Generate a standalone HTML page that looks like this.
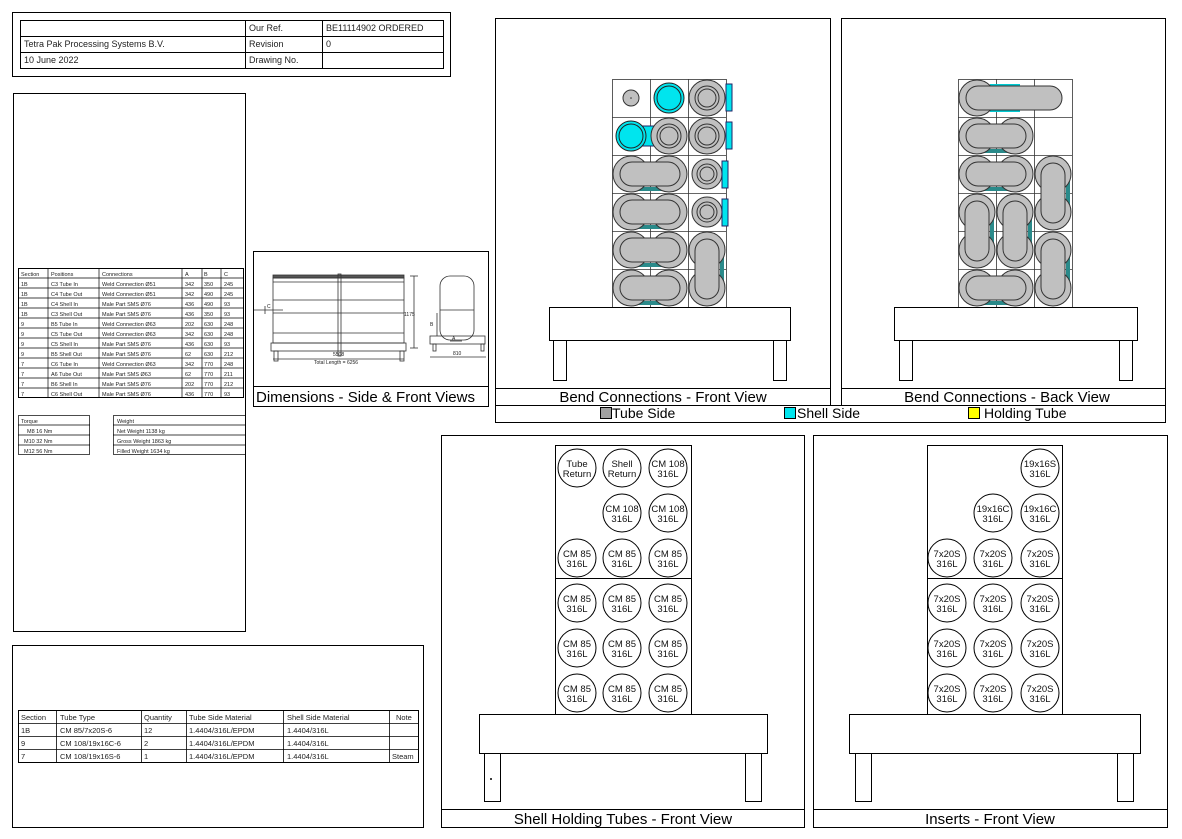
<!DOCTYPE html>
<html><head><meta charset="utf-8"><style>
html,body{margin:0;padding:0;background:#fff;}
svg{display:block;font-family:"Liberation Sans",Arial,sans-serif;}
.t{font-size:9px;fill:#222}
.s{font-size:5.5px;fill:#222}
.m{font-size:7.5px;fill:#222}
.ti{font-size:15px;fill:#000}
.lb{font-size:9.5px;fill:#111}
</style></head><body>
<svg width="1182" height="839" viewBox="0 0 1182 839" xmlns="http://www.w3.org/2000/svg">
<defs>
<g id="hb"><!-- horizontal bend, centered at 0,0 spanning -19..+19 -->
 <rect x="-2" y="13" width="42" height="4" fill="#2a8a8a"/>
 <circle cx="0" cy="0" r="18" fill="#c0c0c0" stroke="#333"/>
 <circle cx="38" cy="0" r="18" fill="#c0c0c0" stroke="#333"/>
 <rect x="-11" y="-12" width="60" height="24" rx="12" fill="#c0c0c0" stroke="#333"/>
</g>
<g id="vb">
 <rect x="13" y="-2" width="4" height="42" fill="#2a8a8a"/>
 <circle cx="0" cy="0" r="18" fill="#c0c0c0" stroke="#333"/>
 <circle cx="0" cy="38" r="18" fill="#c0c0c0" stroke="#333"/>
 <rect x="-12" y="-11" width="24" height="60" rx="12" fill="#c0c0c0" stroke="#333"/>
</g>
<g id="ring">
 <circle r="18" fill="#c0c0c0" stroke="#333"/>
 <circle r="12" fill="#c0c0c0" stroke="#333"/>
 <circle r="9" fill="#c0c0c0" stroke="#333"/>
</g>
<g id="ring2">
 <circle r="15" fill="#c0c0c0" stroke="#333"/>
 <circle r="10" fill="#c0c0c0" stroke="#333"/>
 <circle r="7" fill="#c0c0c0" stroke="#333"/>
</g>
</defs>
<g fill="none" stroke="#000" stroke-width="1">
<!-- header -->
<rect x="12.5" y="12.5" width="438" height="64"/>
<rect x="20.5" y="20.5" width="423" height="48"/>
<line x1="20" y1="36.5" x2="443" y2="36.5"/><line x1="20" y1="52.5" x2="443" y2="52.5"/>
<line x1="245.5" y1="20" x2="245.5" y2="68"/><line x1="322.5" y1="20" x2="322.5" y2="68"/>
<!-- left panel -->
<rect x="13.5" y="93.5" width="232" height="538"/>
<rect x="18.5" y="268.5" width="225" height="129"/>
</g>
<g stroke="#000" stroke-width="0.7">
<line x1="18" y1="278" x2="243" y2="278"/><line x1="18" y1="288" x2="243" y2="288"/><line x1="18" y1="298" x2="243" y2="298"/><line x1="18" y1="308" x2="243" y2="308"/><line x1="18" y1="318" x2="243" y2="318"/><line x1="18" y1="328" x2="243" y2="328"/><line x1="18" y1="338" x2="243" y2="338"/><line x1="18" y1="348" x2="243" y2="348"/><line x1="18" y1="358" x2="243" y2="358"/><line x1="18" y1="368" x2="243" y2="368"/><line x1="18" y1="378" x2="243" y2="378"/><line x1="18" y1="388" x2="243" y2="388"/>
<line x1="48" y1="268" x2="48" y2="397"/><line x1="99" y1="268" x2="99" y2="397"/><line x1="182" y1="268" x2="182" y2="397"/><line x1="202" y1="268" x2="202" y2="397"/><line x1="221" y1="268" x2="221" y2="397"/>
<rect x="18.5" y="415.5" width="71" height="39" fill="none"/>
<line x1="18" y1="425" x2="90" y2="425"/><line x1="18" y1="435" x2="90" y2="435"/><line x1="18" y1="445" x2="90" y2="445"/>
<rect x="113.5" y="415.5" width="132" height="39" fill="none"/>
<line x1="113" y1="425" x2="246" y2="425"/><line x1="113" y1="435" x2="246" y2="435"/><line x1="113" y1="445" x2="246" y2="445"/>
</g>
<g class="s">
<text x="21" y="276">Section</text><text x="51" y="276">Positions</text><text x="102" y="276">Connections</text><text x="185" y="276">A</text><text x="204" y="276">B</text><text x="224" y="276">C</text>
<text x="21" y="286">1B</text><text x="51" y="286">C3 Tube In</text><text x="102" y="286">Weld Connection Ø51</text><text x="185" y="286">342</text><text x="204" y="286">350</text><text x="224" y="286">245</text>
<text x="21" y="296">1B</text><text x="51" y="296">C4 Tube Out</text><text x="102" y="296">Weld Connection Ø51</text><text x="185" y="296">342</text><text x="204" y="296">490</text><text x="224" y="296">245</text>
<text x="21" y="306">1B</text><text x="51" y="306">C4 Shell In</text><text x="102" y="306">Male Part SMS Ø76</text><text x="185" y="306">436</text><text x="204" y="306">490</text><text x="224" y="306">93</text>
<text x="21" y="316">1B</text><text x="51" y="316">C3 Shell Out</text><text x="102" y="316">Male Part SMS Ø76</text><text x="185" y="316">436</text><text x="204" y="316">350</text><text x="224" y="316">93</text>
<text x="21" y="326">9</text><text x="51" y="326">B5 Tube In</text><text x="102" y="326">Weld Connection Ø63</text><text x="185" y="326">202</text><text x="204" y="326">630</text><text x="224" y="326">248</text>
<text x="21" y="336">9</text><text x="51" y="336">C5 Tube Out</text><text x="102" y="336">Weld Connection Ø63</text><text x="185" y="336">342</text><text x="204" y="336">630</text><text x="224" y="336">248</text>
<text x="21" y="346">9</text><text x="51" y="346">C5 Shell In</text><text x="102" y="346">Male Part SMS Ø76</text><text x="185" y="346">436</text><text x="204" y="346">630</text><text x="224" y="346">93</text>
<text x="21" y="356">9</text><text x="51" y="356">B5 Shell Out</text><text x="102" y="356">Male Part SMS Ø76</text><text x="185" y="356">62</text><text x="204" y="356">630</text><text x="224" y="356">212</text>
<text x="21" y="366">7</text><text x="51" y="366">C6 Tube In</text><text x="102" y="366">Weld Connection Ø63</text><text x="185" y="366">342</text><text x="204" y="366">770</text><text x="224" y="366">248</text>
<text x="21" y="376">7</text><text x="51" y="376">A6 Tube Out</text><text x="102" y="376">Male Part SMS Ø63</text><text x="185" y="376">62</text><text x="204" y="376">770</text><text x="224" y="376">211</text>
<text x="21" y="386">7</text><text x="51" y="386">B6 Shell In</text><text x="102" y="386">Male Part SMS Ø76</text><text x="185" y="386">202</text><text x="204" y="386">770</text><text x="224" y="386">212</text>
<text x="21" y="396">7</text><text x="51" y="396">C6 Shell Out</text><text x="102" y="396">Male Part SMS Ø76</text><text x="185" y="396">436</text><text x="204" y="396">770</text><text x="224" y="396">93</text>
<text x="21" y="423">Torque</text><text x="27" y="433">M8   16 Nm</text><text x="24" y="443">M10  32 Nm</text><text x="24" y="453">M12  56 Nm</text>
<text x="117" y="423">Weight</text><text x="117" y="433">Net Weight         1138 kg</text><text x="117" y="443">Gross Weight       1863 kg</text><text x="117" y="453">Filled Weight       1634 kg</text>
</g>
<g class="t">
<text x="249" y="31">Our Ref.</text><text x="326" y="31">BE11114902 ORDERED</text>
<text x="24" y="47">Tetra Pak Processing Systems B.V.</text><text x="249" y="47">Revision</text><text x="326" y="47">0</text>
<text x="24" y="63">10 June 2022</text><text x="249" y="63">Drawing No.</text>
</g>
<!-- dimensions panel -->
<g fill="none" stroke="#000">
<rect x="253.5" y="251.5" width="235" height="155"/>
<line x1="253" y1="386.5" x2="489" y2="386.5"/>
</g>
<g fill="none" stroke="#333" stroke-width="0.8">
<rect x="273" y="275" width="131" height="3" fill="#555"/>
<line x1="273" y1="282" x2="404" y2="282"/><line x1="273" y1="300" x2="404" y2="300"/><line x1="273" y1="313" x2="404" y2="313"/><line x1="273" y1="333" x2="404" y2="333"/>
<rect x="273" y="278" width="131" height="65"/>
<rect x="271" y="343" width="135" height="8"/>
<rect x="338" y="274" width="3" height="82"/>
<rect x="274" y="351" width="4" height="10"/><rect x="400" y="351" width="4" height="10"/>
<line x1="273" y1="359" x2="404" y2="359"/>
<line x1="254" y1="310" x2="283" y2="310"/><line x1="265" y1="306" x2="265" y2="314"/>
<rect x="440" y="276" width="34" height="64" rx="10"/>
<line x1="440" y1="310" x2="474" y2="310"/>
<rect x="430" y="336" width="55" height="8"/>
<rect x="433" y="344" width="3" height="7"/><rect x="481" y="344" width="3" height="7"/>
<line x1="414" y1="276" x2="414" y2="348"/><line x1="410" y1="276" x2="418" y2="276"/><line x1="410" y1="348" x2="418" y2="348"/>
<line x1="430" y1="357" x2="486" y2="357"/>
<line x1="437" y1="313" x2="437" y2="336"/>
<line x1="450" y1="341" x2="462" y2="341"/>
</g>
<g class="s" style="font-size:5px">
<text x="267" y="308">C</text><text x="404" y="316">1175</text><text x="430" y="326">B</text><text x="452" y="340">A</text><text x="453" y="355">810</text>
<text x="333" y="356">5508</text><text x="314" y="364">Total Length = 6256</text>
</g>
<text class="ti" x="256" y="402">Dimensions - Side &amp; Front Views</text>

<!-- bend front panel -->
<g fill="none" stroke="#000">
<rect x="495.5" y="18.5" width="335" height="387"/>
<line x1="495" y1="388.5" x2="830" y2="388.5"/>
<rect x="841.5" y="18.5" width="324" height="387"/>
<line x1="841" y1="388.5" x2="1165" y2="388.5"/>
<rect x="495.5" y="405.5" width="670" height="17"/>
</g>
<g fill="none" stroke="#333" stroke-width="0.8">
<rect x="612.5" y="79.5" width="114" height="228"/>
<line x1="650.5" y1="79" x2="650.5" y2="307"/><line x1="688.5" y1="79" x2="688.5" y2="307"/>
<line x1="612" y1="117.5" x2="726" y2="117.5"/><line x1="612" y1="155.5" x2="726" y2="155.5"/><line x1="612" y1="193.5" x2="726" y2="193.5"/><line x1="612" y1="231.5" x2="726" y2="231.5"/><line x1="612" y1="269.5" x2="726" y2="269.5"/>
<rect x="958.5" y="79.5" width="114" height="228"/>
<line x1="996.5" y1="79" x2="996.5" y2="307"/><line x1="1034.5" y1="79" x2="1034.5" y2="307"/>
<line x1="958" y1="117.5" x2="1072" y2="117.5"/><line x1="958" y1="155.5" x2="1072" y2="155.5"/><line x1="958" y1="193.5" x2="1072" y2="193.5"/><line x1="958" y1="231.5" x2="1072" y2="231.5"/><line x1="958" y1="269.5" x2="1072" y2="269.5"/>
</g>
<!-- front contents -->
<circle cx="631" cy="98" r="8" fill="#c0c0c0" stroke="#333"/><circle cx="631" cy="98" r="0.8" fill="#333"/>
<circle cx="669" cy="98" r="15" fill="#00e5ee" stroke="#222"/><circle cx="669" cy="98" r="12" fill="#00e5ee" stroke="#222"/>
<use href="#ring" x="707" y="98"/><rect x="726" y="84" width="6" height="27" fill="#00e5ee" stroke="#226"/>
<rect x="631" y="126" width="28" height="20" fill="#00e5ee" stroke="#226"/>
<circle cx="631" cy="136" r="15" fill="#00e5ee" stroke="#222"/><circle cx="631" cy="136" r="12" fill="#00e5ee" stroke="#222"/>
<use href="#ring" x="669" y="136"/><use href="#ring" x="707" y="136"/><rect x="726" y="122" width="6" height="27" fill="#00e5ee" stroke="#226"/>
<use href="#hb" x="631" y="174"/><use href="#ring2" x="707" y="174"/><rect x="722" y="161" width="6" height="27" fill="#00e5ee" stroke="#226"/>
<use href="#hb" x="631" y="212"/><use href="#ring2" x="707" y="212"/><rect x="722" y="199" width="6" height="27" fill="#00e5ee" stroke="#226"/>
<use href="#hb" x="631" y="250"/><use href="#hb" x="631" y="288"/><use href="#vb" x="707" y="250"/>
<!-- back contents -->
<rect x="990" y="84" width="30" height="28" fill="#00c8d0"/>
<circle cx="977" cy="98" r="18" fill="#c0c0c0" stroke="#333"/>
<rect x="966" y="86" width="96" height="24" rx="12" fill="#c0c0c0" stroke="#333"/>
<use href="#hb" x="977" y="136"/><use href="#hb" x="977" y="174"/>
<use href="#vb" x="1053" y="174"/><use href="#vb" x="977" y="212"/><use href="#vb" x="1015" y="212"/>
<use href="#vb" x="1053" y="250"/><use href="#hb" x="977" y="288"/>
<!-- bases -->
<g fill="#fff" stroke="#000">
<rect x="549.5" y="307.5" width="241" height="33"/>
<rect x="553.5" y="340.5" width="13" height="40"/><rect x="773.5" y="340.5" width="13" height="40"/>
<rect x="894.5" y="307.5" width="243" height="33"/>
<rect x="899.5" y="340.5" width="13" height="40"/><rect x="1119.5" y="340.5" width="13" height="40"/>
</g>
<text class="ti" x="663" y="402" text-anchor="middle">Bend Connections - Front View</text>
<text class="ti" x="1007" y="402" text-anchor="middle">Bend Connections - Back View</text>
<rect x="600.5" y="407.5" width="11" height="11" fill="#a0a0a0" stroke="#000"/><text class="ti" x="612" y="418" style="font-size:14px">Tube Side</text>
<rect x="784.5" y="407.5" width="11" height="11" fill="#00e5ee" stroke="#000"/><text class="ti" x="797" y="418" style="font-size:14px">Shell Side</text>
<rect x="968.5" y="407.5" width="11" height="11" fill="#ffff00" stroke="#000"/><text class="ti" x="984" y="418" style="font-size:14px">Holding Tube</text>

<!-- bottom left table -->
<g fill="none" stroke="#000">
<rect x="12.5" y="645.5" width="411" height="182"/>
<rect x="18.5" y="710.5" width="400" height="52"/>
</g>
<g stroke="#000" stroke-width="0.8">
<line x1="18" y1="723.5" x2="418" y2="723.5"/><line x1="18" y1="736.5" x2="418" y2="736.5"/><line x1="18" y1="749.5" x2="418" y2="749.5"/>
<line x1="56.5" y1="710" x2="56.5" y2="762"/><line x1="141.5" y1="710" x2="141.5" y2="762"/><line x1="186.5" y1="710" x2="186.5" y2="762"/><line x1="283.5" y1="710" x2="283.5" y2="762"/><line x1="389.5" y1="710" x2="389.5" y2="762"/>
</g>
<g class="m">
<text x="21" y="720">Section</text><text x="60" y="720">Tube Type</text><text x="144" y="720">Quantity</text><text x="189" y="720">Tube Side Material</text><text x="287" y="720">Shell Side Material</text><text x="396" y="720">Note</text>
<text x="21" y="733">1B</text><text x="60" y="733">CM 85/7x20S-6</text><text x="144" y="733">12</text><text x="189" y="733">1.4404/316L/EPDM</text><text x="287" y="733">1.4404/316L</text>
<text x="21" y="746">9</text><text x="60" y="746">CM 108/19x16C-6</text><text x="144" y="746">2</text><text x="189" y="746">1.4404/316L/EPDM</text><text x="287" y="746">1.4404/316L</text>
<text x="21" y="759">7</text><text x="60" y="759">CM 108/19x16S-6</text><text x="144" y="759">1</text><text x="189" y="759">1.4404/316L/EPDM</text><text x="287" y="759">1.4404/316L</text><text x="392" y="759">Steam</text>
</g>

<!-- shell holding panel -->
<g fill="none" stroke="#000">
<rect x="441.5" y="435.5" width="363" height="392"/>
<line x1="441" y1="809.5" x2="804" y2="809.5"/>
<rect x="555.5" y="445.5" width="136" height="270"/>
<line x1="555" y1="578.5" x2="691" y2="578.5"/>
<rect x="813.5" y="435.5" width="354" height="392"/>
<line x1="813" y1="809.5" x2="1167" y2="809.5"/>
<rect x="927.5" y="445.5" width="135" height="270"/>
<line x1="927" y1="578.5" x2="1062" y2="578.5"/>
</g>
<g fill="#fff" stroke="#000">
<rect x="479.5" y="714.5" width="288" height="39"/>
<rect x="484.5" y="753.5" width="16" height="48"/><rect x="745.5" y="753.5" width="16" height="48"/>
<rect x="849.5" y="714.5" width="291" height="39"/>
<rect x="855.5" y="753.5" width="16" height="48"/><rect x="1117.5" y="753.5" width="16" height="48"/>
</g>
<circle cx="491" cy="779" r="1" fill="#000"/>
<g fill="#fff" stroke="#000">
<circle cx="577" cy="468" r="19"/><circle cx="622" cy="468" r="19"/><circle cx="668" cy="468" r="19"/>
<circle cx="622" cy="513" r="19"/><circle cx="668" cy="513" r="19"/>
<circle cx="577" cy="558" r="19"/><circle cx="622" cy="558" r="19"/><circle cx="668" cy="558" r="19"/>
<circle cx="577" cy="603" r="19"/><circle cx="622" cy="603" r="19"/><circle cx="668" cy="603" r="19"/>
<circle cx="577" cy="648" r="19"/><circle cx="622" cy="648" r="19"/><circle cx="668" cy="648" r="19"/>
<circle cx="577" cy="693" r="19"/><circle cx="622" cy="693" r="19"/><circle cx="668" cy="693" r="19"/>
<circle cx="1040" cy="468" r="19"/>
<circle cx="993" cy="513" r="19"/><circle cx="1040" cy="513" r="19"/>
<circle cx="947" cy="558" r="19"/><circle cx="993" cy="558" r="19"/><circle cx="1040" cy="558" r="19"/>
<circle cx="947" cy="603" r="19"/><circle cx="993" cy="603" r="19"/><circle cx="1040" cy="603" r="19"/>
<circle cx="947" cy="648" r="19"/><circle cx="993" cy="648" r="19"/><circle cx="1040" cy="648" r="19"/>
<circle cx="947" cy="693" r="19"/><circle cx="993" cy="693" r="19"/><circle cx="1040" cy="693" r="19"/>
</g>
<g class="lb" text-anchor="middle">
<text x="577" y="467">Tube</text><text x="577" y="477">Return</text>
<text x="622" y="467">Shell</text><text x="622" y="477">Return</text>
<text x="668" y="467">CM 108</text><text x="668" y="477">316L</text>
<text x="622" y="512">CM 108</text><text x="622" y="522">316L</text>
<text x="668" y="512">CM 108</text><text x="668" y="522">316L</text>
<text x="577" y="557">CM 85</text><text x="577" y="567">316L</text><text x="622" y="557">CM 85</text><text x="622" y="567">316L</text><text x="668" y="557">CM 85</text><text x="668" y="567">316L</text>
<text x="577" y="602">CM 85</text><text x="577" y="612">316L</text><text x="622" y="602">CM 85</text><text x="622" y="612">316L</text><text x="668" y="602">CM 85</text><text x="668" y="612">316L</text>
<text x="577" y="647">CM 85</text><text x="577" y="657">316L</text><text x="622" y="647">CM 85</text><text x="622" y="657">316L</text><text x="668" y="647">CM 85</text><text x="668" y="657">316L</text>
<text x="577" y="692">CM 85</text><text x="577" y="702">316L</text><text x="622" y="692">CM 85</text><text x="622" y="702">316L</text><text x="668" y="692">CM 85</text><text x="668" y="702">316L</text>
<text x="1040" y="467">19x16S</text><text x="1040" y="477">316L</text>
<text x="993" y="512">19x16C</text><text x="993" y="522">316L</text><text x="1040" y="512">19x16C</text><text x="1040" y="522">316L</text>
<text x="947" y="557">7x20S</text><text x="947" y="567">316L</text><text x="993" y="557">7x20S</text><text x="993" y="567">316L</text><text x="1040" y="557">7x20S</text><text x="1040" y="567">316L</text>
<text x="947" y="602">7x20S</text><text x="947" y="612">316L</text><text x="993" y="602">7x20S</text><text x="993" y="612">316L</text><text x="1040" y="602">7x20S</text><text x="1040" y="612">316L</text>
<text x="947" y="647">7x20S</text><text x="947" y="657">316L</text><text x="993" y="647">7x20S</text><text x="993" y="657">316L</text><text x="1040" y="647">7x20S</text><text x="1040" y="657">316L</text>
<text x="947" y="692">7x20S</text><text x="947" y="702">316L</text><text x="993" y="692">7x20S</text><text x="993" y="702">316L</text><text x="1040" y="692">7x20S</text><text x="1040" y="702">316L</text>
</g>
<text class="ti" x="623" y="824" text-anchor="middle">Shell Holding Tubes - Front View</text>
<text class="ti" x="990" y="824" text-anchor="middle">Inserts - Front View</text>
</svg>
</body></html>
